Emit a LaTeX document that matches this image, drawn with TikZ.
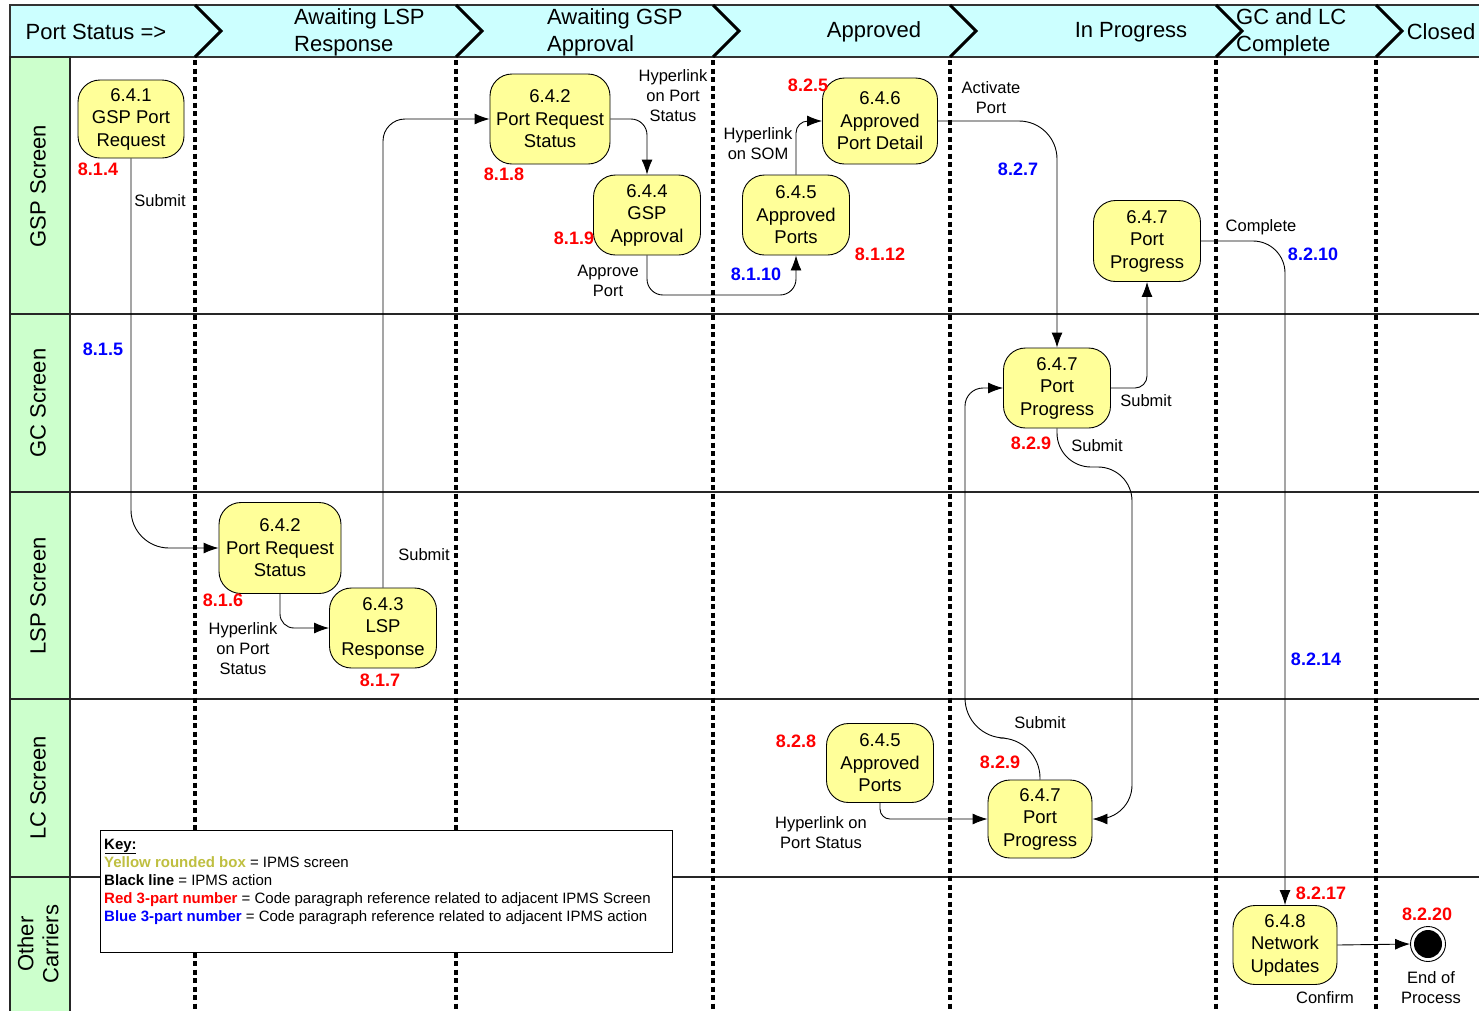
\documentclass[tikz,border=0pt]{standalone}
\usepackage{fontspec}
\setmainfont{Liberation Sans}
\usetikzlibrary{arrows.meta}

\definecolor{headcyan}{HTML}{CCFFFF}
\definecolor{lanegreen}{HTML}{CCFFCC}
\definecolor{boxyellow}{HTML}{FFFF99}
\definecolor{refred}{HTML}{FF0000}
\definecolor{refblue}{HTML}{0000FF}
\definecolor{keyolive}{HTML}{BFBF40}

\newcommand{\nodefont}{\fontsize{18.5}{22.5}\selectfont}
\newcommand{\headfont}{\fontsize{22}{27}\selectfont}
\newcommand{\lblfont}{\fontsize{16.5}{20}\selectfont}
\newcommand{\reffont}{\fontsize{18}{20}\selectfont\bfseries}
\newcommand{\lanefont}{\fontsize{22}{25}\selectfont}
\newcommand{\keyfont}{\fontsize{15}{18}\selectfont}

\begin{document}
\begin{tikzpicture}[x=1pt,y=-1pt,
  screen/.style={draw=black, line width=0.9pt, fill=boxyellow, rounded corners=22pt,
    align=center, font=\nodefont, inner sep=2pt},
  conn/.style={draw=black, line width=0.9pt, -{Latex[length=15pt,width=11pt]}},
  lbl/.style={font=\lblfont, align=center, inner sep=0pt},
  redref/.style={font=\reffont, text=refred, inner sep=0pt},
  blueref/.style={font=\reffont, text=refblue, inner sep=0pt},
  lanelbl/.style={font=\lanefont, rotate=90, align=center, inner sep=0pt},
  headlbl/.style={font=\headfont, inner sep=0pt},
  chev/.style={draw=black, line width=3pt, line join=miter},
  phase/.style={draw=black, line width=3.5pt, dash pattern=on 5pt off 3.5pt},
  laneline/.style={draw=black!85, line width=1.1pt}
]
\useasboundingbox (0,0) rectangle (1479,1010);

% header band and lane title column
\fill[white] (0,0) rectangle (1479,1010);
\draw[fill=headcyan, draw=black!80, line width=1.1pt] (10,5) rectangle (1490,57);
\draw[fill=lanegreen, draw=black!85, line width=1.1pt] (10,57) rectangle (70,1020);

% lane separators
\foreach \yy in {314,492,699,877}
  \draw[laneline] (10,\yy) -- (1490,\yy);

% phase boundaries
\foreach \xx in {195,456,713,950,1216,1376}
  \draw[phase] (\xx,60) -- (\xx,1012);

% chevrons in the header
\foreach \xx in {195,456,713,950,1216,1376}
  \draw[chev] (\xx,5) -- (\xx+26,31) -- (\xx,57);

% header texts
\node[headlbl] (hps) at (96,32) {Port Status =>};
\node[headlbl, anchor=west, align=left] (hlsp) at (294,32) {Awaiting LSP\\Response};
\node[headlbl, anchor=west, align=left] (hgsp) at (547,32) {Awaiting GSP\\Approval};
\node[headlbl] (happ) at (874,32) {Approved};
\node[headlbl] (hprog) at (1131,32) {In Progress};
\node[headlbl, anchor=west, align=left] (hgclc) at (1236,32) {GC and LC\\Complete};
\node[headlbl] (hclosed) at (1441,32) {Closed};

% lane titles
\node[lanelbl] (lgsp) at (38,186) {GSP Screen};
\node[lanelbl] (lgc) at (38,403) {GC Screen};
\node[lanelbl] (llsp) at (38,596) {LSP Screen};
\node[lanelbl] (llc) at (38,788) {LC Screen};
\node[lanelbl] (loc) at (38,944) {Other\\Carriers};

% key
\draw[fill=white, draw=black, line width=0.9pt] (100,830) rectangle (672,952);
\node[anchor=north west, align=left, font=\keyfont, inner sep=0pt] (key) at (104,839)
  {\textbf{Key:}\\
   \textcolor{keyolive}{\textbf{Yellow rounded box}} = IPMS screen\\
   \textbf{Black line} = IPMS action\\
   \textcolor{refred}{\textbf{Red 3-part number}} = Code paragraph reference related to adjacent IPMS Screen\\
   \textcolor{refblue}{\textbf{Blue 3-part number}} = Code paragraph reference related to adjacent IPMS action};
\draw[line width=1pt] (105,853) -- (136,853);

% screens
\node[screen, minimum width=106pt, minimum height=78pt] (n641) at (131,119) {6.4.1\\GSP Port\\Request};
\node[screen, minimum width=120pt, minimum height=90pt] (n642g) at (550,119) {6.4.2\\Port Request\\Status};
\node[screen, minimum width=107pt, minimum height=80pt] (n644) at (647,215) {6.4.4\\GSP\\Approval};
\node[screen, minimum width=107pt, minimum height=80pt] (n645g) at (796,215) {6.4.5\\Approved\\Ports};
\node[screen, minimum width=115pt, minimum height=86pt] (n646) at (880,121) {6.4.6\\Approved\\Port Detail};
\node[screen, minimum width=107pt, minimum height=81pt] (n647g) at (1147,241) {6.4.7\\Port\\Progress};
\node[screen, minimum width=107pt, minimum height=80pt] (n647c) at (1057,388) {6.4.7\\Port\\Progress};
\node[screen, minimum width=122pt, minimum height=91pt] (n642l) at (280,548) {6.4.2\\Port Request\\Status};
\node[screen, minimum width=107pt, minimum height=80pt] (n643) at (383,628) {6.4.3\\LSP\\Response};
\node[screen, minimum width=107pt, minimum height=79pt] (n645l) at (880,763) {6.4.5\\Approved\\Ports};
\node[screen, minimum width=104pt, minimum height=78pt] (n647l) at (1040,819) {6.4.7\\Port\\Progress};
\node[screen, minimum width=104pt, minimum height=79pt] (n648) at (1285,945) {6.4.8\\Network\\Updates};
\node[circle, draw=black, line width=0.9pt, fill=white, minimum size=35pt, inner sep=0pt] (endo) at (1428,944) {};
\node[circle, fill=black, minimum size=28pt, inner sep=0pt] (endi) at (1428,944) {};

% actions
\draw[conn, rounded corners=38pt] (n641.south) |- (n642l.west);
\draw[conn, rounded corners=14pt] (n642l.south) |- (n643.west);
\draw[conn, rounded corners=22pt] (n643.north) |- (n642g.west);
\draw[conn, rounded corners=16pt] (n642g.east) -| (n644.north);
\draw[conn, rounded corners=16pt] (n644.south) |- (796,295) -- (n645g.south);
\draw[conn, rounded corners=12pt] (n645g.north) |- (n646.west);
\draw[conn, rounded corners=38pt] (n646.east) -| (n647c.north);
\draw[conn, rounded corners=12pt] (n647c.east) -| (n647g.south);
\draw[conn, rounded corners=34pt] (n647c.south) |- (1132,467) |- (n647l.east);
\draw[conn] (n647l.north) [rounded corners=40pt] |- (965,738)
  [rounded corners=18pt] |- (n647c.west);
\draw[conn, rounded corners=10pt] (n645l.south) |- (n647l.west);
\draw[conn, rounded corners=32pt] (n647g.east) -| (n648.north);
\draw[conn] (n648.east) -- (endo.west);

% action labels
\node[lbl] (t1) at (160,201) {Submit};
\node[lbl] (t2) at (243,649) {Hyperlink\\on Port\\Status};
\node[lbl] (t3) at (424,555) {Submit};
\node[lbl] (t4) at (673,96) {Hyperlink\\on Port\\Status};
\node[lbl] (t5) at (608,281) {Approve\\Port};
\node[lbl] (t6) at (758,144) {Hyperlink\\on SOM};
\node[lbl] (t7) at (991,98) {Activate\\Port};
\node[lbl] (t8) at (1146,401) {Submit};
\node[lbl] (t9) at (1097,446) {Submit};
\node[lbl] (t10) at (1040,723) {Submit};
\node[lbl] (t11) at (821,833) {Hyperlink on\\Port Status};
\node[lbl] (t12) at (1261,227) {Complete};
\node[lbl] (t13) at (1325,998) {Confirm};
\node[lbl] (t14) at (1431,988) {End of\\Process};

% screen references
\node[redref] (r1) at (98,169) {8.1.4};
\node[redref] (r2) at (504,174) {8.1.8};
\node[redref] (r3) at (574,238) {8.1.9};
\node[redref] (r4) at (808,85) {8.2.5};
\node[redref] (r5) at (880,254) {8.1.12};
\node[redref] (r6) at (1031,443) {8.2.9};
\node[redref] (r7) at (223,600) {8.1.6};
\node[redref] (r8) at (380,680) {8.1.7};
\node[redref] (r9) at (796,741) {8.2.8};
\node[redref] (r10) at (1000,762) {8.2.9};
\node[redref] (r11) at (1321,893) {8.2.17};
\node[redref] (r12) at (1427,914) {8.2.20};

% action references
\node[blueref] (b1) at (103,349) {8.1.5};
\node[blueref] (b2) at (756,274) {8.1.10};
\node[blueref] (b3) at (1018,169) {8.2.7};
\node[blueref] (b4) at (1313,254) {8.2.10};
\node[blueref] (b5) at (1316,659) {8.2.14};
\end{tikzpicture}
\end{document}
